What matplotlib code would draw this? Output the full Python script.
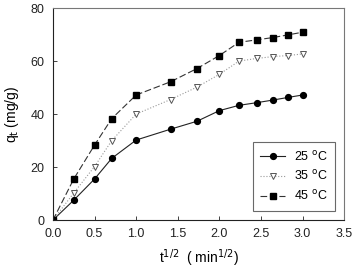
import numpy as np
import matplotlib.pyplot as plt

plt.rcParams['font.family'] = ['Liberation Sans', 'DejaVu Sans']

# square root of time (min^1/2)
t_sqrt = [0, 0.25, 0.5, 0.707, 1.0, 1.414, 1.732, 2.0, 2.236, 2.449, 2.646, 2.828, 3.0]

# adsorbed amount q_t (mg/g)
q_25 = [0, 7.5, 15.5, 23.3, 30.2, 34.3, 37.3, 41.3, 43.3, 44.3, 45.3, 46.3, 47.2]
q_35 = [0, 10.2, 20.2, 30.0, 40.0, 45.5, 50.2, 55.0, 60.0, 61.0, 61.7, 62.1, 62.7]
q_45 = [0, 15.5, 28.3, 38.3, 47.2, 52.2, 57.2, 62.1, 67.1, 68.0, 68.9, 69.9, 70.9]

fig = plt.figure(figsize=(3.53, 2.70), dpi=100)
ax = fig.add_axes([0.150, 0.185, 0.825, 0.785])

ax.plot(t_sqrt, q_25, color='#222222', lw=0.8, ls='-', marker='o',
        ms=4.2, mfc='black', mec='black', label='25 $^{\\rm o}$C')
ax.plot(t_sqrt, q_35, color='#999999', lw=0.8, ls=':', marker='v',
        ms=4.2, mfc='white', mec='#555555', mew=0.7, label='35 $^{\\rm o}$C')
ax.plot(t_sqrt, q_45, color='#333333', lw=0.8, ls=(0, (6, 2.5)), marker='s',
        ms=3.8, mfc='black', mec='black', label='45 $^{\\rm o}$C')

ax.set_xlim(0, 3.5)
ax.set_ylim(0, 80)
ax.set_xticks(np.arange(0, 3.51, 0.5))
ax.set_yticks([0, 20, 40, 60, 80])
ax.xaxis.set_major_formatter(plt.FormatStrFormatter('%.1f'))
ax.tick_params(direction='in', length=3, width=0.6, labelsize=9, colors='#222222')
ax.tick_params(axis='x', pad=6)
ax.tick_params(axis='y', pad=6)
for s in ax.spines.values():
    s.set_linewidth(0.8)
    s.set_color('#777777')
ax.spines['left'].set_color('#222222')
ax.spines['bottom'].set_color('#222222')

ax.set_xlabel('t$^{1/2}$  ( min$^{1/2}$)', fontsize=10, labelpad=5)
ax.set_ylabel('q$_{\\rm t}$ (mg/g)', fontsize=10, labelpad=7)

leg = ax.legend(loc='lower right', bbox_to_anchor=(0.97, 0.045), fontsize=9,
                frameon=True, fancybox=False, edgecolor='#444444',
                handlelength=2.0, handletextpad=0.7, borderpad=0.6,
                labelspacing=0.45, borderaxespad=0)
leg.get_frame().set_linewidth(0.8)

fig.savefig('out.png', dpi=100)
